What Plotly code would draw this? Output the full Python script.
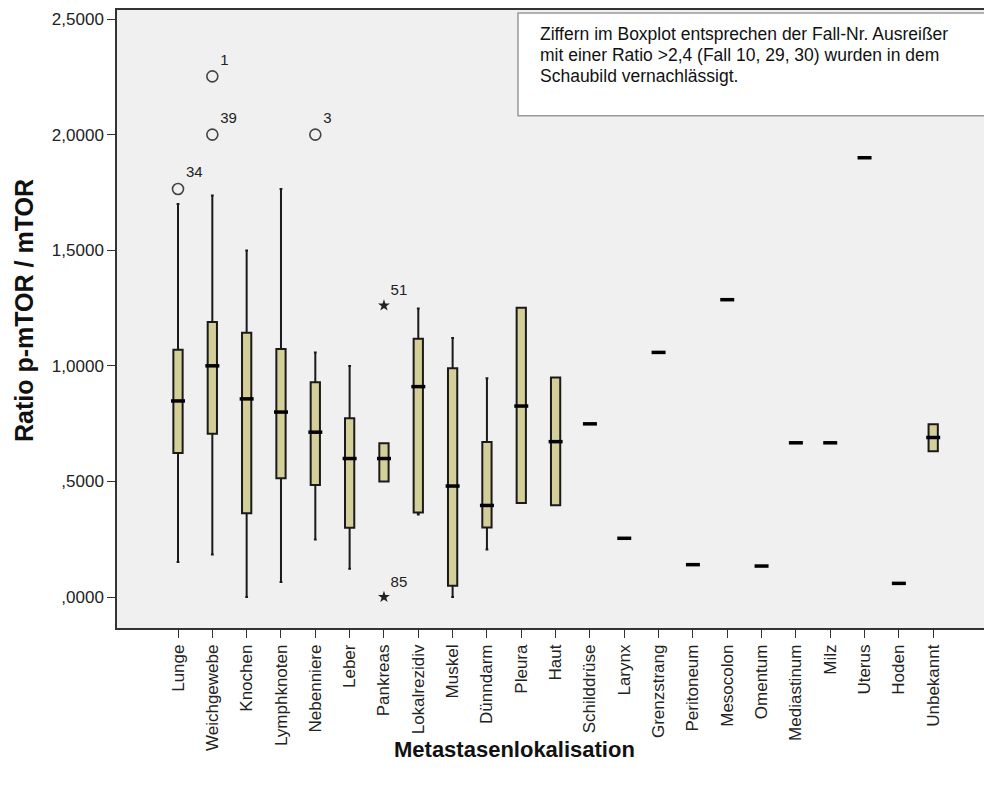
import plotly.graph_objects as go

categories = ["Lunge", "Weichgewebe", "Knochen", "Lymphknoten", "Nebenniere", "Leber",
              "Pankreas", "Lokalrezidiv", "Muskel", "Dünndarm", "Pleura", "Haut",
              "Schilddrüse", "Larynx", "Grenzstrang", "Peritoneum", "Mesocolon",
              "Omentum", "Mediastinum", "Milz", "Uterus", "Hoden", "Unbekannt"]

q1 = [0.623, 0.706, 0.362, 0.514, 0.484, 0.300, 0.500, 0.366, 0.049, 0.301, 0.407, 0.397,
      0.749, 0.254, 1.058, 0.140, 1.286, 0.134, 0.667, 0.667, 1.900, 0.059, 0.631]
median = [0.848, 1.000, 0.857, 0.800, 0.713, 0.599, 0.599, 0.910, 0.480, 0.396, 0.826, 0.672,
          0.749, 0.254, 1.058, 0.140, 1.286, 0.134, 0.667, 0.667, 1.900, 0.059, 0.690]
q3 = [1.070, 1.189, 1.143, 1.073, 0.929, 0.773, 0.665, 1.117, 0.990, 0.671, 1.251, 0.949,
      0.749, 0.254, 1.058, 0.140, 1.286, 0.134, 0.667, 0.667, 1.900, 0.059, 0.747]
lower_whisker = [0.151, 0.184, 0.000, 0.065, 0.249, 0.122, 0.500, 0.357, 0.000, 0.206, 0.407, 0.397,
                 0.749, 0.254, 1.058, 0.140, 1.286, 0.134, 0.667, 0.667, 1.900, 0.059, 0.631]
upper_whisker = [1.700, 1.737, 1.499, 1.765, 1.058, 0.999, 0.665, 1.248, 1.120, 0.946, 1.251, 0.949,
                 0.749, 0.254, 1.058, 0.140, 1.286, 0.134, 0.667, 0.667, 1.900, 0.059, 0.747]

outlier_cat = ["Lunge", "Weichgewebe", "Weichgewebe", "Nebenniere"]
outlier_val = [1.765, 2.000, 2.252, 2.000]
outlier_lab = ["34", "39", "1", "3"]

extreme_cat = ["Pankreas", "Pankreas"]
extreme_val = [1.261, 0.000]
extreme_lab = ["51", "85"]

y_tickvals = [0.0, 0.5, 1.0, 1.5, 2.0, 2.5]
y_ticktext = [",0000", ",5000", "1,0000", "1,5000", "2,0000", "2,5000"]

note_lines = ["Ziffern im Boxplot entsprechen der Fall-Nr. Ausreißer",
              "mit einer Ratio >2,4 (Fall 10, 29, 30) wurden in dem",
              "Schaubild vernachlässigt."]

FONT = "Liberation Sans, Arial, sans-serif"

fig = go.Figure()

fig.add_trace(go.Box(
    x=categories, q1=q1, median=median, q3=q3,
    lowerfence=lower_whisker, upperfence=upper_whisker,
    fillcolor="rgb(212,207,152)",
    line=dict(color="#1a1a1a", width=2),
    width=0.27, whiskerwidth=0.3,
    boxpoints=False, hoverinfo="skip", showlegend=False,
))

fig.add_trace(go.Scatter(
    x=categories, y=median, mode="markers",
    marker=dict(symbol="line-ew", size=10, line=dict(color="black", width=3.5)),
    hoverinfo="skip", showlegend=False,
))

fig.add_trace(go.Scatter(
    x=outlier_cat, y=outlier_val, mode="markers+text",
    text=outlier_lab, textposition="top right",
    textfont=dict(family=FONT, size=15, color="#222"),
    marker=dict(symbol="circle-open", size=11, color="#444", line=dict(width=1.6)),
    hoverinfo="skip", showlegend=False, cliponaxis=False,
))

fig.add_trace(go.Scatter(
    x=extreme_cat, y=extreme_val, mode="markers+text",
    text=extreme_lab, textposition="top right",
    textfont=dict(family=FONT, size=15, color="#222"),
    marker=dict(symbol="star", size=9, color="#222"),
    hoverinfo="skip", showlegend=False, cliponaxis=False,
))

annotations = []
for i, line in enumerate(note_lines):
    annotations.append(dict(
        text=line, xref="paper", yref="paper", x=0.4855, y=1.0,
        yshift=-(24 + 21 * i), xanchor="left", yanchor="middle",
        align="left", showarrow=False, font=dict(size=17.5, color="#111")))
annotations += [
    dict(text="<b>Ratio p-mTOR / mTOR</b>", xref="paper", yref="paper",
         x=0, xshift=-93, y=0.513, textangle=-90, showarrow=False,
         xanchor="center", yanchor="middle", font=dict(size=25, color="#111")),
    dict(text="<b>Metastasenlokalisation</b>", xref="paper", yref="paper",
         x=0.458, y=0, yshift=-121, showarrow=False,
         xanchor="center", yanchor="middle", font=dict(size=22, color="#111")),
]

fig.update_layout(
    width=984, height=793,
    margin=dict(l=117, r=0, t=10, b=165),
    paper_bgcolor="white", plot_bgcolor="#F0F0F0",
    font=dict(family=FONT, size=17, color="#222"),
    xaxis=dict(
        type="category", range=[-1.777, 23.48],
        showline=True, linecolor="#333", linewidth=1.5, mirror=True,
        ticks="outside", ticklen=8, tickcolor="#333", tickwidth=1.2,
        tickangle=-90, tickfont=dict(size=17),
        showgrid=False, zeroline=False,
    ),
    yaxis=dict(
        range=[-0.134, 2.539],
        tickvals=y_tickvals, ticktext=y_ticktext,
        showline=True, linecolor="#333", linewidth=1.5,
        ticks="outside", ticklen=8, tickcolor="#333", tickwidth=1.2,
        tickfont=dict(size=17),
        showgrid=False, zeroline=False,
    ),
    shapes=[dict(
        type="rect", xref="paper", yref="paper",
        x0=0.4625, x1=1.02, y0=0.829, y1=0.995,
        fillcolor="white", line=dict(color="#999", width=1.5), layer="above",
    )],
    annotations=annotations,
)

fig.write_html("out.html", config={"displayModeBar": False},
               post_script="document.body.style.margin='0';document.body.style.overflow='hidden';")
